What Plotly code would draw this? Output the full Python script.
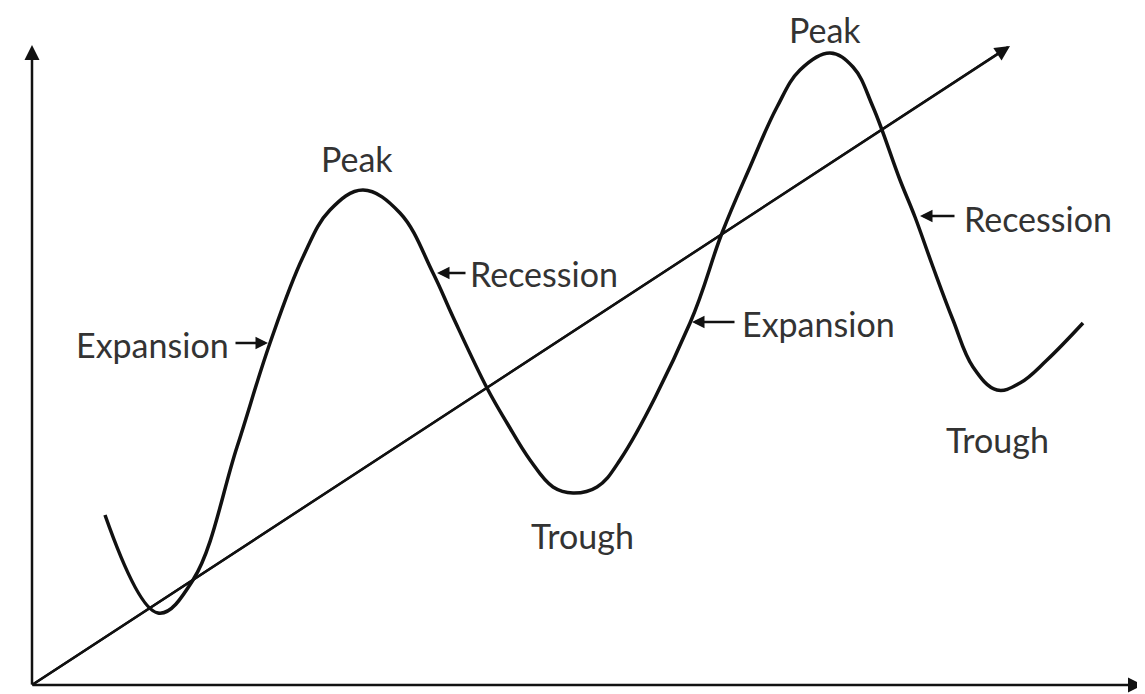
import plotly.graph_objects as go

# business cycle curve (pixel-like units, y grows downward)
cycle_x = [105, 158, 193, 237, 270, 303, 330, 363, 400, 433, 453, 487, 507, 530, 553,
           573, 597, 620, 690, 722, 750, 777, 800, 830, 853, 873, 900, 915, 933, 953,
           973, 997, 1020, 1047, 1083]
cycle_y = [515, 613, 580, 447, 343, 257, 210, 190, 213, 273, 317, 388, 423, 460, 487,
           493, 487, 460, 323, 233, 167, 107, 70, 53, 67, 107, 180, 217, 267, 320,
           367, 390, 383, 360, 323]

# long-run growth trend
trend_x = [32, 1008]
trend_y = [685, 47]

label_text = ["Peak", "Peak", "Recession", "Recession", "Expansion", "Expansion", "Trough", "Trough"]
label_x = [357, 825, 544, 1038, 152, 818, 582, 997]
label_y = [158, 29, 273, 218, 344, 323, 535, 439]

# small pointer arrows: (tip x, tip y, tail x, tail y)
pointers = [(268, 343, 234, 343), (437, 273, 467, 273),
            (692, 322, 736, 322), (920, 216, 956, 216)]

FONT = "Lato, Calibri, sans-serif"
OFF = 8  # page body margin in the browser

fig = go.Figure()
fig.add_trace(go.Scatter(x=trend_x, y=trend_y, mode="lines",
                         line=dict(color="#111", width=2.2), hoverinfo="skip"))
fig.add_trace(go.Scatter(x=cycle_x, y=cycle_y, mode="lines",
                         line=dict(color="#111", width=3.5, shape="spline", smoothing=1.1),
                         hoverinfo="skip"))

annotations = []
for t, x, y in zip(label_text, label_x, label_y):
    annotations.append(dict(x=x, y=y, text=t, showarrow=False,
                            font=dict(family=FONT, size=34, color="#333")))

for tx, ty, sx, sy in pointers:
    annotations.append(dict(x=tx, y=ty, ax=sx, ay=sy, xref="x", yref="y",
                            axref="x", ayref="y", text="", showarrow=True,
                            arrowhead=2, arrowsize=1.0, arrowwidth=2.5, arrowcolor="#111"))

# axes and trend arrowheads
for tx, ty, sx, sy in [(32, 45, 32, 686), (1143, 685, 31, 685), (1010, 46, 32, 685)]:
    annotations.append(dict(x=tx, y=ty, ax=sx, ay=sy, xref="x", yref="y",
                            axref="x", ayref="y", text="", showarrow=True,
                            arrowhead=2, arrowsize=1.2, arrowwidth=2.5, arrowcolor="#111"))

fig.update_layout(
    width=1145, height=694,
    margin=dict(l=0, r=0, t=0, b=0),
    paper_bgcolor="white", plot_bgcolor="white",
    showlegend=False,
    xaxis=dict(range=[OFF, 1145 + OFF], visible=False),
    yaxis=dict(range=[694 + OFF, OFF], visible=False),
    annotations=annotations,
)

fig.write_html("out.html")
